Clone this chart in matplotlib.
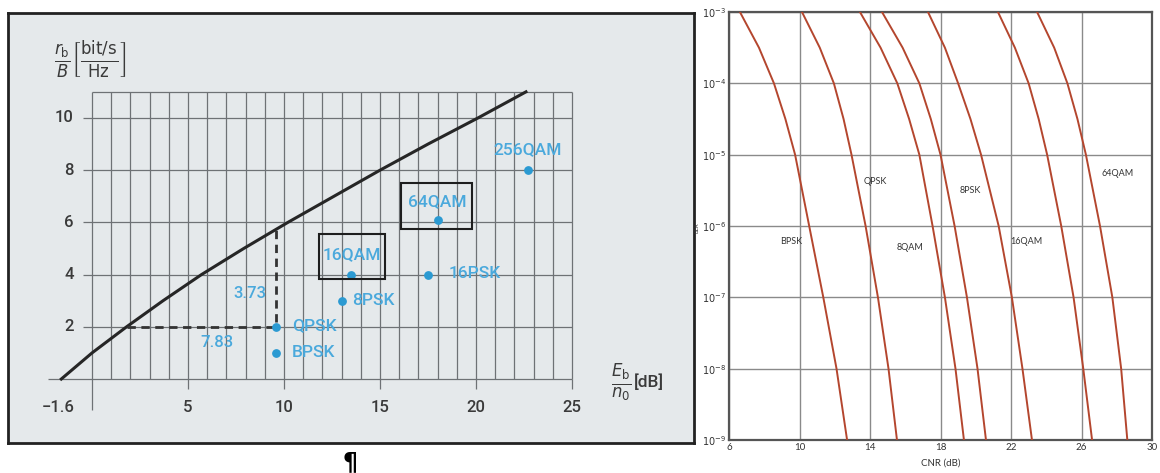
import matplotlib
matplotlib.use('Agg')
import matplotlib.pyplot as plt
from matplotlib.patches import Rectangle

# ---- left chart: bandwidth efficiency vs Eb/n0 ----
bound_ebn0 = [-1.6, 0.0, 1.8, 3.7, 5.7, 7.9, 10.2, 12.6, 15.0, 17.5, 20.1, 22.6]
bound_rb = [0, 1, 2, 3, 4, 5, 6, 7, 8, 9, 10, 11]

mod_names = ['BPSK', 'QPSK', '8PSK', '16QAM', '16PSK', '64QAM', '256QAM']
mod_ebn0 = [9.6, 9.6, 13.0, 13.5, 17.5, 18.0, 22.7]
mod_rb = [1, 2, 3, 4, 4, 6.1, 8]

y_ticks = [2, 4, 6, 8, 10]
x_ticks = [5, 10, 15, 20, 25]

# ---- right chart: BER vs CNR ----
ber = [1e-3, 10**-3.5, 1e-4, 10**-4.5, 1e-5, 1e-6, 1e-7, 1e-8, 1e-9]
cnr_curves = [
    [6.62, 7.7, 8.55, 9.2, 9.75, 10.55, 11.35, 12.1, 12.7],
    [10.14, 11.15, 11.95, 12.5, 12.95, 13.75, 14.45, 15.05, 15.53],
    [13.43, 14.6, 15.55, 16.22, 16.8, 17.55, 18.25, 18.85, 19.33],
    [14.68, 15.85, 16.8, 17.45, 18.0, 18.8, 19.5, 20.1, 20.58],
    [17.29, 18.25, 19.0, 19.7, 20.3, 21.3, 22.05, 22.65, 23.19],
    [21.26, 22.22, 23.0, 23.57, 24.05, 24.85, 25.55, 26.1, 26.6],
    [23.48, 24.45, 25.2, 25.77, 26.25, 27.05, 27.75, 28.25, 28.6],
]
curve_labels = ['BPSK', 'QPSK', '8QAM', '8PSK', '16QAM', '64QAM']
label_x = [9.52, 14.28, 16.27, 19.67, 22.85, 28.07]
label_y = [10**-6.22, 10**-5.38, 10**-6.3, 10**-5.5, 10**-6.22, 10**-5.26]
cnr_ticks = [6, 10, 14, 18, 22, 26, 30]
ber_ticks = [1e-3, 1e-4, 1e-5, 1e-6, 1e-7, 1e-8, 1e-9]

plt.rcParams['mathtext.fontset'] = 'dejavusans'

fig = plt.figure(figsize=(11.6, 4.73), dpi=100)
fig.patch.set_facecolor('white')

left_font = ['Roboto', 'DejaVu Sans']
blue = '#2b9ad2'
blue_txt = '#4aa9dc'
grid_c = '#6e7275'
txt_c = '#3a3a3a'

ax = fig.add_axes([8 / 1160, 30 / 473, 686 / 1160, 430 / 473])
ax.set_facecolor('#e5e9eb')
ax.set_xlim(-4.375, 31.35)
ax.set_ylim(-2.45, 14.02)
ax.set_xticks([])
ax.set_yticks([])
for s in ax.spines.values():
    s.set_linewidth(2)
    s.set_color('#222222')

# grid
ax.vlines(range(0, 26), 0, 11, color=grid_c, lw=0.9, zorder=1)
ax.vlines(x_ticks, -0.4, 0, color=grid_c, lw=0.9, zorder=1)
ax.vlines([0], -1.2, 0, color=grid_c, lw=0.9, zorder=1)
ax.hlines(y_ticks, -0.45, 25, color=grid_c, lw=0.9, zorder=1)
ax.hlines([11], 0, 25, color=grid_c, lw=0.9, zorder=1)
ax.hlines([0], -2.3, 25, color=grid_c, lw=0.9, zorder=1)

for v in y_ticks:
    ax.text(-0.95, v, str(v), ha='right', va='center', fontsize=12,
            color=txt_c, family=left_font, weight='medium')
for v in x_ticks:
    ax.text(v, -1.1, str(v), ha='center', va='center', fontsize=12,
            color=txt_c, family=left_font, weight='medium')
ax.text(-1.75, -1.1, '\u22121.6', ha='center', va='center', fontsize=12,
        color=txt_c, family=left_font, weight='medium')

# Shannon bound
ax.plot(bound_ebn0, bound_rb, color='#262626', lw=2.2, zorder=3)
ax.plot([1.8, 9.6], [2, 2], color='#333333', lw=2, ls=(0, (3, 2)), zorder=3)
ax.plot([9.6, 9.6], [2.2, 5.7], color='#333333', lw=2, ls=(0, (3, 2)), zorder=3)
ax.text(9.1, 3.28, '3.73', ha='right', va='center', fontsize=12,
        color=blue_txt, family=left_font, weight='medium')
ax.text(6.5, 1.4, '7.83', ha='center', va='center', fontsize=12,
        color=blue_txt, family=left_font, weight='medium')

ax.scatter(mod_ebn0, mod_rb, s=28, color=blue, zorder=4)
label_pos = {
    'BPSK': (10.42, 1.0, 'left'),
    'QPSK': (10.42, 2.05, 'left'),
    '8PSK': (13.55, 3.0, 'left'),
    '16PSK': (18.55, 4.05, 'left'),
    '16QAM': (13.55, 4.78, 'center'),
    '64QAM': (17.97, 6.78, 'center'),
    '256QAM': (22.66, 8.78, 'center'),
}
for name in mod_names:
    lx, ly, ha = label_pos[name]
    ax.text(lx, ly, name, ha=ha, va='center', fontsize=12.5,
            color=blue_txt, family=left_font, weight='medium', zorder=5)

ax.add_patch(Rectangle((11.8, 3.82), 3.46, 1.74, fill=False,
                       ec='#1e1e1e', lw=1.5, zorder=4))
ax.add_patch(Rectangle((16.1, 5.75), 3.7, 1.74, fill=False,
                       ec='#1e1e1e', lw=1.5, zorder=4))

ax.text(-0.1, 12.25,
        r'$\frac{r_{\mathrm{b}}}{B}\left[\frac{\mathrm{bit/s}}{\mathrm{Hz}}\right]$',
        ha='center', va='center', fontsize=17, color=txt_c)
ax.text(27.55, -0.15, r'$\frac{E_{\mathrm{b}}}{n_0}$', ha='center',
        va='center', fontsize=17, color=txt_c)
ax.text(28.2, -0.1, '[dB]', ha='left', va='center', fontsize=12.5,
        color=txt_c, family=left_font, weight='medium')

fig.text(350 / 1160, 1 - 462 / 473, '\u00b6', ha='center', va='center',
         fontsize=17, fontweight='bold', color='black')

# ---- right chart ----
bx = fig.add_axes([729 / 1160, 33 / 473, 423 / 1160, 428 / 473])
bx.set_yscale('log')
bx.set_xlim(6, 30)
bx.set_ylim(1e-9, 1e-3)
bx.set_xticks(cnr_ticks)
bx.set_xticklabels([str(t) for t in cnr_ticks])
bx.set_yticks(ber_ticks)
bx.set_yticklabels([r'$10^{%d}$' % e for e in range(-3, -10, -1)])
bx.yaxis.set_minor_locator(matplotlib.ticker.NullLocator())
bx.tick_params(length=0, labelsize=7, colors='#333333', pad=2)
for lab in bx.get_xticklabels():
    lab.set_family('Lato')
bx.grid(True, color='#8a8a8a', lw=1)
for s in bx.spines.values():
    s.set_linewidth(1.6)
    s.set_color('#555555')

for c in cnr_curves:
    bx.plot(c, ber, color='#b4462e', lw=1.4, zorder=3)
for name, lx, ly in zip(curve_labels, label_x, label_y):
    bx.text(lx, ly, name, ha='center', va='center', fontsize=6.5,
            color='#333333', family='Lato')

bx.text(18, 10**-9.32, 'CNR (dB)', ha='center', va='center', fontsize=7,
        color='#333333', family='Lato', clip_on=False)
fig.text(697 / 1160, 1 - 228 / 473, 'BER', rotation=90, ha='center',
         va='center', fontsize=4, color='#333333')

fig.savefig('out.png', dpi=100, facecolor='white')
